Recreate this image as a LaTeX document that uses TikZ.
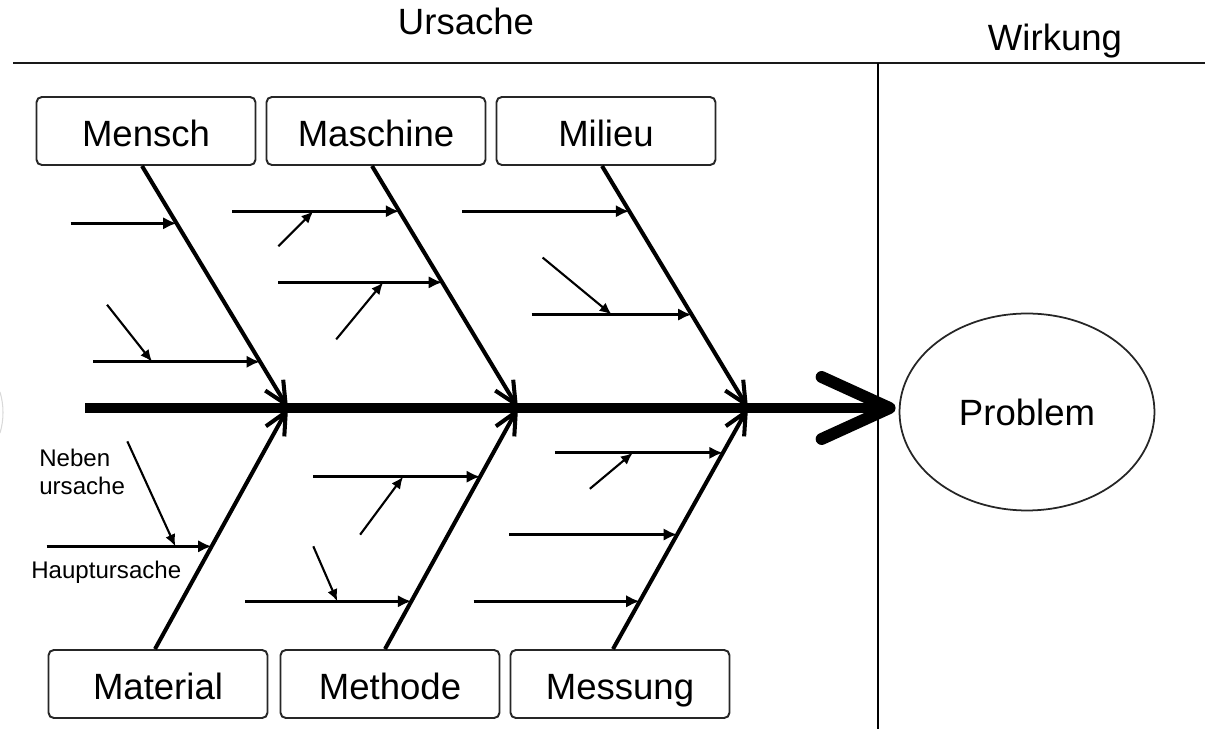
\documentclass[tikz,border=0pt]{standalone}
\usepackage{fontspec}
\setmainfont{Liberation Sans}
\usepackage{tikz}
\usetikzlibrary{shapes.geometric,arrows.meta,positioning,calc}
\newcommand{\bigtxt}{\fontsize{20.8pt}{25pt}\selectfont}
\newcommand{\smalltxt}{\fontsize{13.7pt}{15.9pt}\selectfont}

\begin{document}
\begin{tikzpicture}[
    x=0.02cm, y=-0.02cm,
    box/.style={draw=black!85, line width=1.1pt, rounded corners=3pt, minimum width=4.38cm, minimum height=1.36cm, fill=white, inner sep=0pt, text height=0.66cm, text depth=0.04cm, font=\bigtxt},
    prob/.style={draw=black!85, line width=1pt, ellipse, minimum width=5.1cm, minimum height=3.94cm, inner sep=0pt, font=\bigtxt},
    title/.style={font=\bigtxt, anchor=base, inner sep=0pt},
    small/.style={font=\smalltxt, inner sep=0pt},
    rule/.style={line width=1.7pt, black!90},
    divider/.style={line width=1.1pt},
    spine/.style={line width=6.2pt},
    chevron/.style={line width=6.8pt, line cap=round, line join=round},
    bone/.style={line width=2.3pt, -{Straight Barb[length=4.4mm, width=4.2mm]}},
    haupt/.style={line width=1.6pt, -{Latex[length=2.7mm, width=2.5mm]}},
    neben/.style={line width=1.2pt, -{Latex[length=2.4mm, width=2.1mm]}}
]
\useasboundingbox (0,0) rectangle (1205,729);
% HEADER: Ursache | Wirkung
\coordinate (tl) at (13,63); \coordinate (tr) at (1205,63);
\coordinate (vt) at (878,63); \coordinate (vb) at (878,729);
\draw[rule] (tl) -- (tr);
\draw[divider] (vt) -- (vb);
\node[title] (ursache) at (466,35) {Ursache};
\node[title] (wirkung) at (1055,51) {Wirkung};
% cut edge on the left
\draw[gray!30, line width=0.6pt] (0,392) .. controls (4,405) and (4,420) .. (0,433);
% CATEGORY BOXES
\node[box] (mensch) at (146,131) {Mensch};
\node[box] (maschine) at (376,131) {Maschine};
\node[box] (milieu) at (606,131) {Milieu};
\node[box] (material) at (158,684) {Material};
\node[box] (methode) at (390,684) {Methode};
\node[box] (messung) at (620,684) {Messung};
% PROBLEM
\node[prob] (problem) at (1027,412) {Problem};
% SPINE
\coordinate (tail) at (85,408);
\coordinate (vtx) at ($(tail -| problem.west)+(-9,0)$);
\coordinate (head) at ($(tail -| problem.west)+(-8,0)$);
\draw[spine] (tail) -- (head);
\draw[chevron] ([shift={(-68,-31)}]vtx) -- (vtx) -- ([shift={(-68,31)}]vtx);
\coordinate (j1) at (288,408);
\coordinate (j2) at (518,408);
\coordinate (j3) at (748,408);
% Mensch
\draw[bone] ([xshift=-0.08cm]mensch.south) -- coordinate[pos=0.237] (m1) coordinate[pos=0.809] (m2) (j1);
\draw[haupt] ([shift={(-106,0)}]m1) -- (m1);
\draw[haupt] ([shift={(-167,0)}]m2) -- coordinate[pos=0.353] (m2n) (m2);
\draw[neben] ([shift={(-45,-57)}]m2n) -- (m2n);
% Maschine
\draw[bone] ([xshift=-0.08cm]maschine.south) -- coordinate[pos=0.187] (a1) coordinate[pos=0.481] (a2) (j2);
\draw[haupt] ([shift={(-167,0)}]a1) -- coordinate[pos=0.485] (a1n) (a1);
\draw[neben] ([shift={(-35,35)}]a1n) -- (a1n);
\draw[haupt] ([shift={(-164,0)}]a2) -- coordinate[pos=0.64] (a2n) (a2);
\draw[neben] ([shift={(-47,57)}]a2n) -- (a2n);
% Milieu
\draw[bone] ([xshift=-0.08cm]milieu.south) -- coordinate[pos=0.187] (b1) coordinate[pos=0.614] (b2) (j3);
\draw[haupt] ([shift={(-167,0)}]b1) -- (b1);
\draw[haupt] ([shift={(-160,0)}]b2) -- coordinate[pos=0.5] (b2n) (b2);
\draw[neben] ([shift={(-69,-57)}]b2n) -- (b2n);
% Material
\draw[bone] ([xshift=-0.06cm]material.north) -- coordinate[pos=0.426] (c1) (j1);
\draw[haupt] ([shift={(-165,0)}]c1) -- coordinate[pos=0.78] (c1n) (c1);
\draw[neben] ([shift={(-48,-105)}]c1n) -- (c1n);
\node[small, anchor=west, align=left] (nebenlbl) at (39,472) {Neben\\ursache};
\node[small, anchor=west] (hauptlbl) at (31,572) {Hauptursache};
% Methode
\draw[bone] ([xshift=-0.1cm]methode.north) -- coordinate[pos=0.198] (d2) coordinate[pos=0.715] (d1) (j2);
\draw[haupt] ([shift={(-167,0)}]d1) -- coordinate[pos=0.539] (d1n) (d1);
\draw[neben] ([shift={(-43,58)}]d1n) -- (d1n);
\draw[haupt] ([shift={(-166,0)}]d2) -- coordinate[pos=0.554] (d2n) (d2);
\draw[neben] ([shift={(-24,-55)}]d2n) -- (d2n);
% Messung
\draw[bone] ([xshift=-0.14cm]messung.north) -- coordinate[pos=0.198] (e3) coordinate[pos=0.475] (e2) coordinate[pos=0.814] (e1) (j3);
\draw[haupt] ([shift={(-168,0)}]e1) -- coordinate[pos=0.464] (e1n) (e1);
\draw[neben] ([shift={(-43,36)}]e1n) -- (e1n);
\draw[haupt] ([shift={(-168,0)}]e2) -- (e2);
\draw[haupt] ([shift={(-166,0)}]e3) -- (e3);
\end{tikzpicture}
\end{document}
